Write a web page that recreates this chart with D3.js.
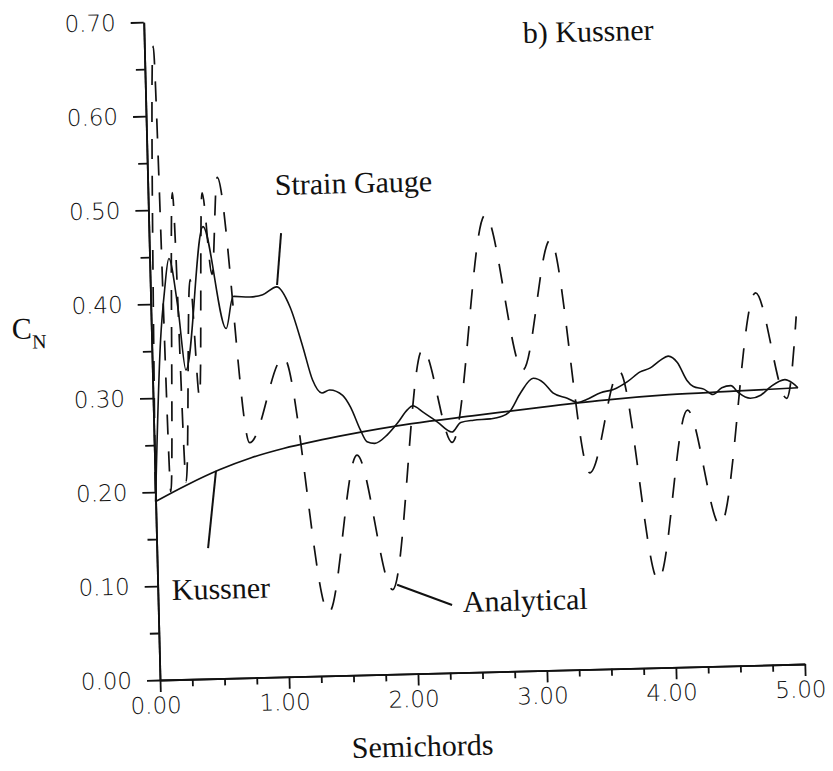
<!DOCTYPE html>
<html>
<head>
<meta charset="utf-8">
<script src="https://cdn.jsdelivr.net/npm/d3@7"></script>
<style>
  html, body { margin: 0; padding: 0; background: #fff; }
  svg { display: block; }
</style>
</head>
<body>
<div id="chart"></div>
<script>
// chart values
var xTicks = [0, 1, 2, 3, 4, 5];
var xMinor = [0.25, 0.5, 0.75, 1.25, 1.5, 1.75, 2.25, 2.5, 2.75, 3.25, 3.5, 3.75, 4.25, 4.5, 4.75];
var yTicks = [0, 0.1, 0.2, 0.3, 0.4, 0.5, 0.6, 0.7];
var yMinor = [0.05, 0.15, 0.25, 0.35, 0.45, 0.55, 0.65];

var kussnerX = [0, 0.25, 0.5, 0.75, 1, 1.25, 1.5, 2, 2.5, 3, 3.5, 4, 4.5, 5];
var kussnerY = [0.19, 0.207, 0.222, 0.234, 0.243, 0.25, 0.256, 0.266, 0.273, 0.28, 0.286, 0.29, 0.292, 0.294];

var gaugeX = [0, 0.07, 0.11, 0.15, 0.21, 0.26, 0.42, 0.58, 0.64, 0.77, 0.87, 0.98, 1.08, 1.17, 1.24, 1.31, 1.37,
  1.47, 1.53, 1.6, 1.65, 1.71, 1.81, 1.89, 1.97, 2.01, 2.09, 2.2, 2.31, 2.38, 2.48, 2.61, 2.69, 2.76, 2.85,
  2.95, 3.03, 3.1, 3.21, 3.29, 3.36, 3.47, 3.57, 3.68, 3.78, 3.86, 3.94, 4.0, 4.07, 4.14, 4.19, 4.27, 4.34,
  4.41, 4.48, 4.54, 4.63, 4.71, 4.79, 4.9, 4.96, 5.0];
var gaugeY = [0.19, 0.362, 0.414, 0.448, 0.396, 0.329, 0.481, 0.372, 0.406, 0.405, 0.407, 0.415, 0.393, 0.351, 0.315, 0.301, 0.304,
  0.298, 0.285, 0.261, 0.248, 0.246, 0.255, 0.267, 0.281, 0.285, 0.278, 0.267, 0.256, 0.266, 0.268, 0.269, 0.271, 0.276, 0.296,
  0.311, 0.306, 0.295, 0.289, 0.284, 0.287, 0.294, 0.297, 0.305, 0.315, 0.319, 0.327, 0.331, 0.324, 0.305, 0.298, 0.295, 0.289,
  0.296, 0.298, 0.29, 0.284, 0.287, 0.296, 0.303, 0.299, 0.294];

var analyticalX = [0, 0.07, 0.12, 0.19, 0.24, 0.31, 0.36, 0.42, 0.48, 0.54, 0.74, 1.02, 1.32, 1.57, 1.82, 2.1, 2.31,
  2.61, 2.87, 3.11, 3.37, 3.62, 3.88, 4.14, 4.37, 4.69, 4.91, 5.0];
var analyticalY = [0.2, 0.674, 0.2, 0.518, 0.21, 0.425, 0.3, 0.517, 0.43, 0.533, 0.25, 0.34, 0.067, 0.234, 0.09, 0.345, 0.245,
  0.486, 0.32, 0.458, 0.209, 0.316, 0.093, 0.273, 0.15, 0.396, 0.283, 0.37];

// pointer lines, in data units
var pointers = [
  { name: "gauge", x: [0.983, 1.024], y: [0.417, 0.472] },
  { name: "kussner", x: [0.474, 0.398], y: [0.221, 0.139] },
  { name: "analytical", x: [1.856, 2.278], y: [0.095, 0.072] }
];

var width = 833, height = 771;
var origin = [160, 680];
var tilt = -1.42;   // the scanned page is slightly rotated

var svg = d3.select("#chart").append("svg")
  .attr("width", width)
  .attr("height", height);

var x = d3.scaleLinear().domain([0, 5]).range([0, 645]);
var y = d3.scaleLinear().domain([0, 0.7]).range([0, -658]);

var plot = svg.append("g")
  .attr("transform", "translate(" + origin[0] + "," + origin[1] + ") rotate(" + tilt + ")");

function styleAxis(g) {
  g.selectAll("path, line").attr("stroke", "#111").attr("stroke-width", 1.8);
  g.selectAll("text")
    .attr("fill", "#111")
    .style("font-family", "'DejaVu Sans', sans-serif")
    .style("font-size", "23px")
    .style("font-weight", "300");
}

// minor ticks first
plot.append("g")
  .call(d3.axisLeft(y).tickValues(yMinor).tickSize(9).tickSizeOuter(0).tickFormat(""))
  .call(styleAxis);
plot.append("g")
  .call(d3.axisBottom(x).tickValues(xMinor).tickSize(7).tickSizeOuter(0).tickFormat(""))
  .call(styleAxis);

plot.append("g")
  .call(d3.axisLeft(y).tickValues(yTicks).tickSize(13).tickPadding(15).tickSizeOuter(0).tickFormat(d3.format(".2f")))
  .call(styleAxis);
plot.append("g")
  .call(d3.axisBottom(x).tickValues(xTicks).tickSize(12).tickPadding(5).tickSizeOuter(0).tickFormat(d3.format(".2f")))
  .call(styleAxis)
  .selectAll("text").attr("dx", -5);

var line = d3.line()
  .x(function(d) { return x(d[0]); })
  .y(function(d) { return y(d[1]); })
  .curve(d3.curveMonotoneX);

plot.append("path")
  .datum(d3.zip(kussnerX, kussnerY))
  .attr("d", line)
  .attr("fill", "none").attr("stroke", "#111").attr("stroke-width", 1.7);

plot.append("path")
  .datum(d3.zip(gaugeX, gaugeY))
  .attr("d", line)
  .attr("fill", "none").attr("stroke", "#111").attr("stroke-width", 1.6);

plot.append("path")
  .datum(d3.zip(analyticalX, analyticalY))
  .attr("d", line)
  .attr("fill", "none").attr("stroke", "#111").attr("stroke-width", 1.7)
  .attr("stroke-dasharray", "20,17");

plot.selectAll(".pointer")
  .data(pointers)
  .enter().append("line")
  .attr("class", "pointer")
  .attr("x1", function(d) { return x(d.x[0]); })
  .attr("y1", function(d) { return y(d.y[0]); })
  .attr("x2", function(d) { return x(d.x[1]); })
  .attr("y2", function(d) { return y(d.y[1]); })
  .attr("stroke", "#111").attr("stroke-width", 2);

// labels
var labels = [
  { text: "b) Kussner", x: 523, y: 43 },
  { text: "Strain Gauge", x: 275, y: 195 },
  { text: "Kussner", x: 172, y: 600 },
  { text: "Analytical", x: 463, y: 612 },
  { text: "Semichords", x: 352, y: 758 }
];

svg.selectAll(".label")
  .data(labels)
  .enter().append("text")
  .attr("class", "label")
  .attr("transform", function(d) { return "translate(" + d.x + "," + d.y + ") rotate(" + tilt + ")"; })
  .style("font-family", "'Liberation Serif', 'Times New Roman', serif")
  .style("font-size", "30px")
  .attr("fill", "#111")
  .text(function(d) { return d.text; });

var cn = svg.append("text")
  .attr("transform", "translate(12,339) rotate(" + tilt + ")")
  .style("font-family", "'Liberation Serif', 'Times New Roman', serif")
  .style("font-size", "30px")
  .attr("fill", "#111");
cn.append("tspan").text("C");
cn.append("tspan").attr("dy", 10).style("font-size", "20px").text("N");
</script>
</body>
</html>
